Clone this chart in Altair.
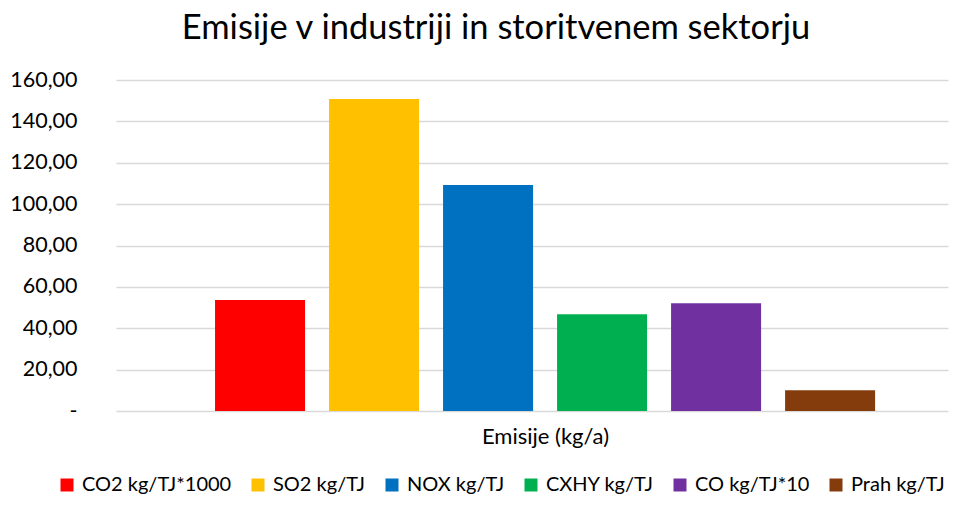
import altair as alt
import pandas as pd

series = ["CO2 kg/TJ*1000", "SO2 kg/TJ", "NOX kg/TJ", "CXHY kg/TJ", "CO kg/TJ*10", "Prah kg/TJ"]
values = [53.6, 150.8, 109.2, 46.8, 52.1, 10.0]
colors = ["#FF0000", "#FFC000", "#0070C0", "#00B050", "#7030A0", "#843C0C"]
y_ticks = [0, 20, 40, 60, 80, 100, 120, 140, 160]
chart_title = "Emisije v industriji in storitvenem sektorju"
x_title = "Emisije (kg/a)"

df = pd.DataFrame({"serija": series, "vrednost": values})

FONT = "Lato"

chart = alt.Chart(df).mark_bar().encode(
    x=alt.X(
        "serija:N",
        sort=series,
        scale=alt.Scale(paddingInner=0.2105, paddingOuter=0.754, align=0.576),
        axis=alt.Axis(
            title=x_title, labels=False, ticks=False, domain=False, grid=False,
            titleX=429, titleAlign="center", titleFont=FONT, titleFontSize=22,
            titleFontWeight="normal", titleColor="#000000", titlePadding=15,
        ),
    ),
    y=alt.Y(
        "vrednost:Q",
        scale=alt.Scale(domain=[0, 160], nice=False),
        axis=alt.Axis(
            values=y_ticks, title=None, domain=False, ticks=False, tickSize=0,
            labelPadding=39, labelFont=FONT, labelFontSize=21.5, labelColor="#000000",
            labelExpr="datum.value == 0 ? '-\u00a0\u00a0\u00a0' : replace(format(datum.value, '.2f'), '.', ',')",
            gridColor="#D9D9D9", gridWidth=1.3,
        ),
    ),
    color=alt.Color(
        "serija:N",
        sort=series,
        scale=alt.Scale(domain=series, range=colors),
        legend=alt.Legend(
            title=None, orient="none", legendX=-59, legendY=395, direction="horizontal",
            symbolType="square", symbolSize=169, symbolStrokeWidth=0,
            labelFont=FONT, labelFontSize=20, labelColor="#000000",
            columnPadding=16, labelOffset=5, labelLimit=300, padding=0,
        ),
    ),
).properties(
    width=832,
    height=331,
    title=alt.TitleParams(
        chart_title, font=FONT, fontSize=34.5, fontWeight="normal", color="#000000",
        anchor="middle", frame="group", dx=-36, offset=23,
    ),
    autosize=alt.AutoSizeParams(type="none"),
    padding={"left": 108, "top": 72, "right": 8, "bottom": 87},
).configure_view(stroke=None)

chart.save("out.html", embed_options={"renderer": "svg", "actions": False})
